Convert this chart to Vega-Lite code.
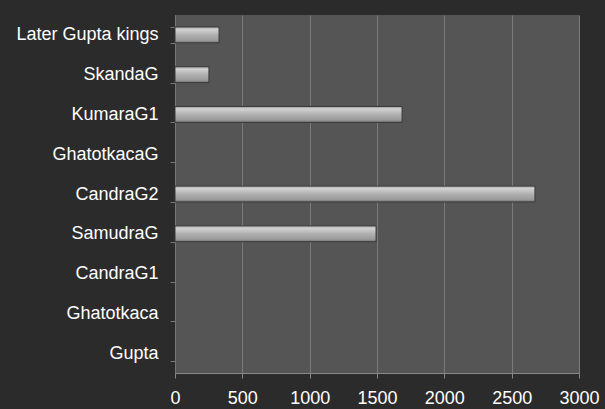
{
  "$schema": "https://vega.github.io/schema/vega-lite/v6.json",
  "width": 404,
  "height": 358,
  "autosize": {"type": "none"},
  "padding": {"left": 175, "top": 15, "right": 26, "bottom": 36},
  "background": "#2b2b2b",
  "config": {
    "view": {"fill": "#555555", "stroke": null},
    "font": "Liberation Sans"
  },
  "data": {
    "values": [
      {"king": "Later Gupta kings", "value": 327},
      {"king": "SkandaG", "value": 252},
      {"king": "KumaraG1", "value": 1686},
      {"king": "GhatotkacaG", "value": 0},
      {"king": "CandraG2", "value": 2673},
      {"king": "SamudraG", "value": 1493},
      {"king": "CandraG1", "value": 0},
      {"king": "Ghatotkaca", "value": 0},
      {"king": "Gupta", "value": 0}
    ]
  },
  "mark": {
    "type": "bar",
    "stroke": "#3a3a3a",
    "strokeWidth": 1,
    "color": {
      "gradient": "linear",
      "x1": 0, "y1": 0, "x2": 0, "y2": 1,
      "stops": [
        {"offset": 0, "color": "#9a9a9a"},
        {"offset": 0.15, "color": "#d2d2d2"},
        {"offset": 0.5, "color": "#b0b0b0"},
        {"offset": 0.85, "color": "#9a9a9a"},
        {"offset": 1, "color": "#6e6e6e"}
      ]
    }
  },
  "encoding": {
    "strokeOpacity": {"condition": {"test": "datum.value > 0", "value": 1}, "value": 0},
    "y": {
      "field": "king",
      "type": "nominal",
      "sort": null,
      "title": null,
      "scale": {"paddingInner": 0.6, "paddingOuter": 0.3},
      "axis": {
        "labelColor": "#ffffff",
        "labelFontSize": 18,
        "labelPadding": 12,
        "tickColor": "#777777",
        "tickSize": 5,
        "tickBand": "extent",
        "domainColor": "#777777",
        "grid": false
      }
    },
    "x": {
      "field": "value",
      "type": "quantitative",
      "title": null,
      "scale": {"domain": [0, 3000], "nice": false},
      "axis": {
        "values": [0, 500, 1000, 1500, 2000, 2500, 3000],
        "format": "d",
        "labelColor": "#ffffff",
        "labelFontSize": 18,
        "labelPadding": 11,
        "labelFlush": false,
        "tickColor": "#888888",
        "tickSize": 5,
        "domainColor": "#888888",
        "gridColor": "#7a7a7a",
        "gridWidth": 1
      }
    }
  }
}
